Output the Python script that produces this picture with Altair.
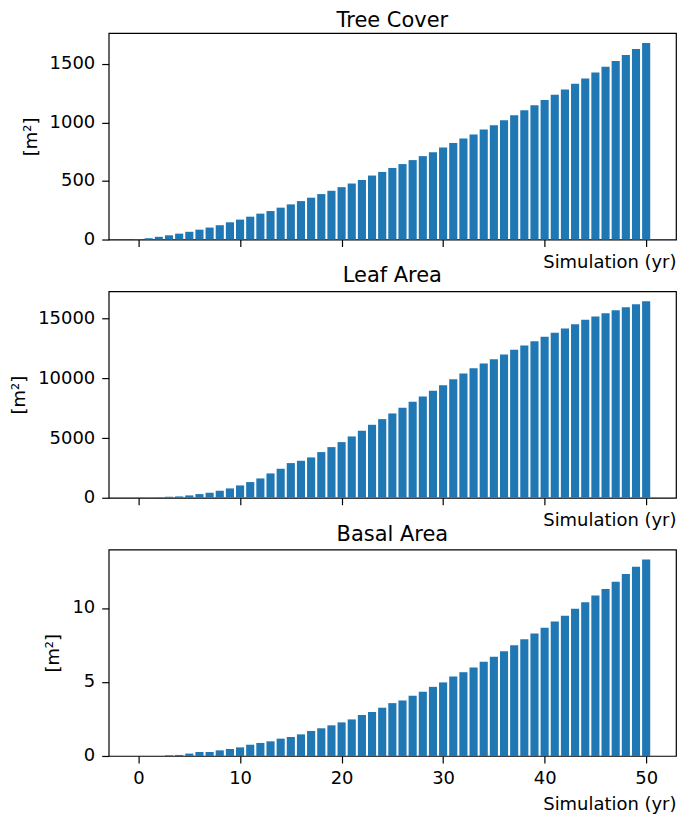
import altair as alt
import pandas as pd

years = list(range(0, 51))

tree_cover = [3, 11, 23, 36, 50, 66, 84, 102, 122, 147, 170, 195, 221, 243, 272,
              300, 328, 357, 388, 416, 447, 478, 509, 546, 577, 611, 644, 678, 712,
              746, 786, 823, 863, 897, 940, 976, 1019, 1061, 1104, 1147, 1192, 1235,
              1280, 1329, 1374, 1425, 1474, 1525, 1576, 1627, 1678]

leaf_area = [0, 0, 20, 84, 112, 195, 307, 419, 586, 781, 1032, 1311, 1618, 2037,
             2427, 2902, 3097, 3376, 3822, 4241, 4659, 5134, 5608, 6110, 6584, 7059,
             7533, 8035, 8482, 8956, 9430, 9932, 10407, 10853, 11244, 11607, 11997,
             12388, 12751, 13113, 13476, 13811, 14174, 14536, 14899, 15178, 15457,
             15708, 15959, 16210, 16461]

basal_area = [0, 0, 0, 0.045, 0.07, 0.16, 0.27, 0.27, 0.38, 0.47, 0.58, 0.76, 0.88,
              0.99, 1.17, 1.28, 1.46, 1.69, 1.87, 2.07, 2.27, 2.47, 2.76, 2.97, 3.26,
              3.57, 3.75, 4.07, 4.34, 4.67, 4.97, 5.37, 5.66, 5.98, 6.36, 6.70, 7.08,
              7.48, 7.89, 8.27, 8.67, 9.08, 9.48, 9.95, 10.38, 10.85, 11.28, 11.77,
              12.29, 12.79, 13.28]

titles = ["Tree Cover", "Leaf Area", "Basal Area"]
y_ticks = [[0, 500, 1000, 1500], [0, 5000, 10000, 15000], [0, 5, 10]]
x_ticks = [0, 10, 20, 30, 40, 50]

FONT = "DejaVu Sans"
BLUE = "#1f77b4"
W, H = 569, 207
half = 0.4
x_dom = [-2.94, 52.94]


def panel(values, title, yt, show_labels, title_offset):
    df = pd.DataFrame({"year": years, "value": values})
    df["x0"] = df["year"] - half
    df["x1"] = df["year"] + half
    df["base"] = 0
    ymax = max(values) * 1.05
    return alt.Chart(df).mark_rect(color=BLUE).encode(
        x=alt.X("x0:Q",
                scale=alt.Scale(domain=x_dom, nice=False, zero=False),
                axis=alt.Axis(values=x_ticks, labels=show_labels, title="Simulation (yr)",
                              titleAnchor="end", titleAlign="right",
                              titlePadding=6 if not show_labels else 8,
                              format="d", labelFlush=False)),
        x2="x1:Q",
        y=alt.Y("value:Q",
                scale=alt.Scale(domain=[0, ymax], nice=False, zero=True),
                axis=alt.Axis(values=yt, title="[m²]", titlePadding=9, format="d")),
        y2="base:Q",
    ).properties(
        width=W, height=H,
        title=alt.TitleParams(title, fontSize=21, font=FONT, fontWeight="normal",
                              offset=title_offset, color="black"),
    )


p1 = panel(tree_cover, titles[0], y_ticks[0], False, 2)
p2 = panel(leaf_area, titles[1], y_ticks[1], False, 5)
p3 = panel(basal_area, titles[2], y_ticks[2], True, 5)

chart = alt.vconcat(p1, p2, p3, spacing=52, bounds="flush").properties(
    padding={"left": 2, "top": 0, "right": 0, "bottom": 0},
    background="white",
).configure_view(
    stroke="black", strokeWidth=1.2
).configure_axis(
    grid=False, domain=False, tickColor="black", tickWidth=1.2, tickSize=7,
    labelFont=FONT, labelFontSize=18, labelColor="black", labelPadding=7,
    titleFont=FONT, titleFontSize=18, titleFontWeight="normal", titleColor="black",
)

chart.save("out.html", embed_options={"renderer": "svg", "actions": False})
